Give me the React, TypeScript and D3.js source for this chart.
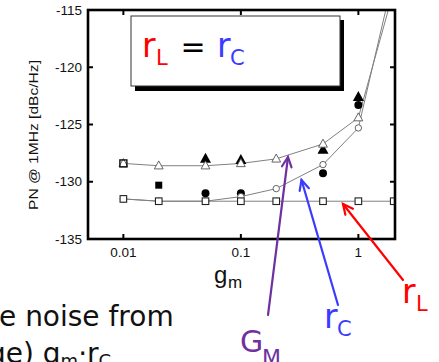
import React from "react";
import * as d3 from "d3";

// g_m sweep and simulated PN curves
const gmValues = [0.01, 0.02, 0.05, 0.1, 0.2, 0.5, 1, 2];
const rLSeries = [-131.5, -131.7, -131.7, -131.7, -131.7, -131.7, -131.7, -131.7];
const rCSeries = [-131.5, -131.7, -131.7, -131.3, -130.6, -128.5, -125.3, -112];
const gMSeries = [-128.4, -128.6, -128.6, -128.4, -128.0, -126.7, -124.4, -113.3];

// measured points (filled markers)
const measTriGm = [0.05, 0.1, 0.5, 1];
const measTriPn = [-128.0, -128.1, -127.2, -122.6];
const measCircGm = [0.05, 0.1, 0.5, 1];
const measCircPn = [-131.0, -131.0, -129.25, -123.3];
const measSqGm = [0.02];
const measSqPn = [-130.3];

const xTicks = [0.01, 0.1, 1];
const xTickLabels = ["0.01", "0.1", "1"];
const yTicks = [-135, -130, -125, -120, -115];

const W = 439;
const H = 362;
const PLOT = { left: 88, right: 395, top: 10, bottom: 239 };

const PURPLE = "#7030a0";
const BLUE = "#3b3bff";
const RED = "#ff0000";
const LINE_GRAY = "#808080";
const SANS = "'Liberation Sans', Arial, sans-serif";
const VERD = "'DejaVu Sans', Verdana, sans-serif";

function Arrow({ x1, y1, x2, y2, color }: { x1: number; y1: number; x2: number; y2: number; color: string }) {
  const ang = Math.atan2(y2 - y1, x2 - x1);
  const len = 11;
  const spread = 0.45;
  const a1 = [x2 - len * Math.cos(ang - spread), y2 - len * Math.sin(ang - spread)];
  const a2 = [x2 - len * Math.cos(ang + spread), y2 - len * Math.sin(ang + spread)];
  return (
    <g stroke={color} strokeWidth={2.2} fill="none" strokeLinecap="round">
      <line x1={x1} y1={y1} x2={x2} y2={y2} />
      <polyline points={`${a1[0]},${a1[1]} ${x2},${y2} ${a2[0]},${a2[1]}`} />
    </g>
  );
}

export default function App() {
  const x = d3.scaleLog().domain([0.005, 2.05]).range([PLOT.left, PLOT.right]);
  const y = d3.scaleLinear().domain([-135, -115]).range([PLOT.bottom, PLOT.top]);

  const line = d3
    .line<[number, number]>()
    .x((d) => x(d[0]))
    .y((d) => y(d[1]));

  const zip = (a: number[], b: number[]) => a.map((v, i) => [v, b[i]] as [number, number]);
  const rL = zip(gmValues, rLSeries);
  const rC = zip(gmValues, rCSeries);
  const gM = zip(gmValues, gMSeries);

  const tri = (cx: number, cy: number, s: number) =>
    `${cx},${cy - s * 0.6} ${cx + s * 0.55},${cy + s * 0.4} ${cx - s * 0.55},${cy + s * 0.4}`;

  return (
    <div style={{ position: "absolute", left: 0, top: 0 }}>
      <svg width={W} height={H} style={{ display: "block", background: "#fff" }}>
        <defs>
          <clipPath id="plotClip">
            <rect x={PLOT.left} y={PLOT.top} width={PLOT.right - PLOT.left} height={PLOT.bottom - PLOT.top} />
          </clipPath>
        </defs>

        {/* legend box with shadow */}
        <rect x={135} y={20} width={209} height={71} fill="#000" />
        <rect x={131} y={16} width={209} height={70} fill="#fff" stroke="#333" strokeWidth={1} />
        <text x={142} y={57} fontFamily={VERD} fontSize={33} fill={RED}>r</text>
        <text x={156} y={65} fontFamily={VERD} fontSize={21} fill={RED}>L</text>
        <text x={193} y={57} fontFamily={VERD} fontSize={30} fill="#000" textAnchor="middle">=</text>
        <text x={217} y={57} fontFamily={VERD} fontSize={33} fill={BLUE}>r</text>
        <text x={230} y={65} fontFamily={VERD} fontSize={21} fill={BLUE}>C</text>

        {/* curves */}
        <g clipPath="url(#plotClip)">
          {[rL, rC, gM].map((s, i) => (
            <path key={i} d={line(s) || ""} fill="none" stroke={LINE_GRAY} strokeWidth={1} />
          ))}
          {/* measured filled markers */}
          {measTriGm.map((g, i) => (
            <polygon key={"mt" + i} points={tri(x(g), y(measTriPn[i]), 10)} fill="#000" />
          ))}
          {measCircGm.map((g, i) => (
            <circle key={"mc" + i} cx={x(g)} cy={y(measCircPn[i])} r={4} fill="#000" />
          ))}
          {measSqGm.map((g, i) => (
            <rect key={"ms" + i} x={x(g) - 3.5} y={y(measSqPn[i]) - 3.5} width={7} height={7} fill="#000" />
          ))}
          {/* open markers */}
          {gM.map((d, i) => (
            <polygon key={"ot" + i} points={tri(x(d[0]), y(d[1]), 8)} fill="#fff" stroke="#555" strokeWidth={0.9} />
          ))}
          <rect x={x(0.01) - 3.5} y={y(-128.4) - 3.5} width={7} height={7} fill="none" stroke="#111" strokeWidth={1.4} />
          {rC.map((d, i) => (
            <circle key={"oc" + i} cx={x(d[0])} cy={y(d[1])} r={3.2} fill="#fff" stroke="#555" strokeWidth={0.9} />
          ))}
          {rL.map((d, i) => (
            <rect key={"os" + i} x={x(d[0]) - 3.3} y={y(d[1]) - 3.3} width={6.6} height={6.6} fill="#fff" stroke="#222" strokeWidth={1.1} />
          ))}
        </g>

        {/* frame */}
        <rect
          x={PLOT.left}
          y={PLOT.top}
          width={PLOT.right - PLOT.left}
          height={PLOT.bottom - PLOT.top}
          fill="none"
          stroke="#000"
          strokeWidth={2.6}
        />

        {/* ticks, inward on all sides */}
        {xTicks.map((t, i) => (
          <g key={"xt" + i}>
            <line x1={x(t)} x2={x(t)} y1={PLOT.bottom} y2={PLOT.bottom - 5} stroke="#000" strokeWidth={2} />
            <line x1={x(t)} x2={x(t)} y1={PLOT.top} y2={PLOT.top + 5} stroke="#000" strokeWidth={2} />
            <text x={x(t)} y={257} textAnchor="middle" fontFamily={SANS} fontSize={13.5} fill="#111">
              {xTickLabels[i]}
            </text>
          </g>
        ))}
        {yTicks.map((t, i) => (
          <g key={"yt" + i}>
            <line x1={PLOT.left} x2={PLOT.left + 5} y1={y(t)} y2={y(t)} stroke="#000" strokeWidth={2} />
            <line x1={PLOT.right} x2={PLOT.right - 5} y1={y(t)} y2={y(t)} stroke="#000" strokeWidth={2} />
            <text x={82} y={y(t)} dy="0.35em" textAnchor="end" fontFamily={SANS} fontSize={13.5} fill="#111">
              {t}
            </text>
          </g>
        ))}

        {/* axis titles */}
        <text
          transform="translate(38,135) rotate(-90)"
          textAnchor="middle"
          fontFamily={SANS}
          fontSize={13}
          fill="#111"
          textLength={150}
          lengthAdjust="spacingAndGlyphs"
        >
          PN @ 1MHz [dBc/Hz]
        </text>
        <text x={214} y={283} fontFamily={SANS} fontSize={24} fill="#111">g</text>
        <text x={228} y={288} fontFamily={SANS} fontSize={17} fill="#111">m</text>

        {/* arrows */}
        <Arrow x1={268} y1={315} x2={288} y2={157} color={PURPLE} />
        <Arrow x1={338} y1={305} x2={301.5} y2={180} color={BLUE} />
        <Arrow x1={403} y1={280} x2={343} y2={204} color={RED} />

        <text x={240} y={352} fontFamily={VERD} fontSize={30} fill={PURPLE}>G</text>
        <text x={262} y={365} fontFamily={VERD} fontSize={22} fill={PURPLE}>M</text>
        <text x={324} y={328} fontFamily={VERD} fontSize={33} fill={BLUE}>r</text>
        <text x={337} y={336} fontFamily={VERD} fontSize={21} fill={BLUE}>C</text>
        <text x={402} y={303} fontFamily={VERD} fontSize={33} fill={RED}>r</text>
        <text x={416} y={311} fontFamily={VERD} fontSize={21} fill={RED}>L</text>

        {/* slide text below the chart */}
        <text x={-1} y={326} fontFamily={VERD} fontSize={28} fill="#111">e noise from</text>
        <text x={-12} y={363} fontFamily={VERD} fontSize={28} fill="#111">
          ge) g<tspan fontSize={18} dy={4}>m</tspan>
          <tspan dy={-4}>·r</tspan>
          <tspan fontSize={18} dy={4}>C</tspan>
        </text>
      </svg>
    </div>
  );
}
